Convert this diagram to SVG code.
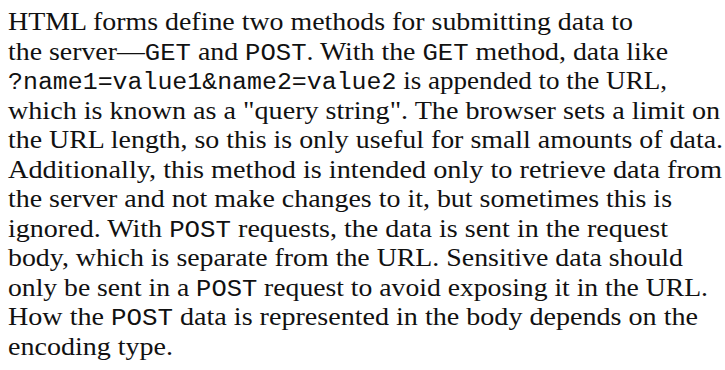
<svg xmlns="http://www.w3.org/2000/svg" width="725" height="370" viewBox="0 0 725 370">
<style>
text{font-family:"Liberation Serif","Times New Roman",serif;font-size:25px;fill:#111}
.m{font-family:"Liberation Mono","Courier New",monospace;font-size:23px}
</style>
<rect width="725" height="370" fill="#fff"/>
<g id="paragraph">
<text x="8" y="30" textLength="625" lengthAdjust="spacingAndGlyphs">HTML forms define two methods for submitting data to</text>
<text x="8" y="59.5" textLength="660" lengthAdjust="spacingAndGlyphs">the server—<tspan class="m">GET</tspan> and <tspan class="m">POST</tspan>. With the <tspan class="m">GET</tspan> method, data like</text>
<text x="8" y="89" textLength="659" lengthAdjust="spacingAndGlyphs"><tspan class="m">?name1=value1&amp;name2=value2</tspan> is appended to the URL,</text>
<text x="8" y="118.5" textLength="712" lengthAdjust="spacingAndGlyphs">which is known as a "query string". The browser sets a limit on</text>
<text x="8" y="148" textLength="715" lengthAdjust="spacingAndGlyphs">the URL length, so this is only useful for small amounts of data.</text>
<text x="8" y="177.5" textLength="714" lengthAdjust="spacingAndGlyphs">Additionally, this method is intended only to retrieve data from</text>
<text x="8" y="207" textLength="664" lengthAdjust="spacingAndGlyphs">the server and not make changes to it, but sometimes this is</text>
<text x="8" y="236.5" textLength="660" lengthAdjust="spacingAndGlyphs">ignored. With <tspan class="m">POST</tspan> requests, the data is sent in the request</text>
<text x="8" y="266" textLength="675" lengthAdjust="spacingAndGlyphs">body, which is separate from the URL. Sensitive data should</text>
<text x="8" y="295.5" textLength="700" lengthAdjust="spacingAndGlyphs">only be sent in a <tspan class="m">POST</tspan> request to avoid exposing it in the URL.</text>
<text x="8" y="325" textLength="690" lengthAdjust="spacingAndGlyphs">How the <tspan class="m">POST</tspan> data is represented in the body depends on the</text>
<text x="8" y="354.5" textLength="165" lengthAdjust="spacingAndGlyphs">encoding type.</text>
</g>
</svg>
